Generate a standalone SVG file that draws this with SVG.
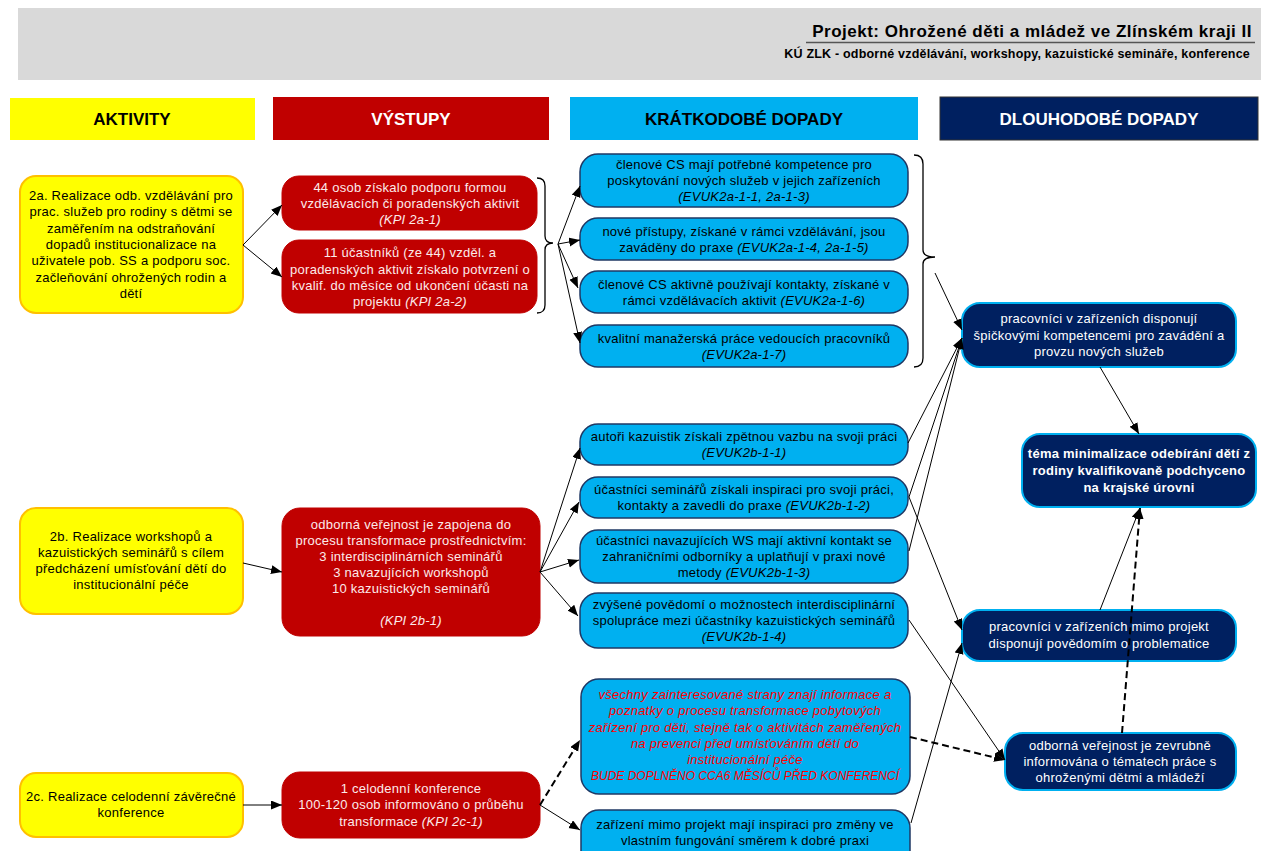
<svg xmlns="http://www.w3.org/2000/svg" width="1261" height="851" viewBox="0 0 1261 851">
<style>
text{font-family:"Liberation Sans",Arial,sans-serif;font-size:13px;letter-spacing:0.25px;text-anchor:middle}
.act{fill:#FFFF00;stroke:#FFC000;stroke-width:2}
.out{fill:#C00000;stroke:#C00000;stroke-width:1}
.sht{fill:#00B0F0;stroke:#1F3864;stroke-width:1.5}
.lng{fill:#002060;stroke:#00B0F0;stroke-width:2}
.tb{fill:#000}
.tw{fill:#FCEAEA}
.tn{fill:#FFFFFF}
.tr{fill:#FF0000;font-style:italic}
.i{font-style:italic}
.hd{font-weight:bold;font-size:17px;letter-spacing:0}
.c{fill:none;stroke:#000;stroke-width:1}
.d{fill:none;stroke:#000;stroke-width:2;stroke-dasharray:7,4}
.br{fill:none;stroke:#000;stroke-width:1.3}
</style>
<defs>
<marker id="a" markerUnits="userSpaceOnUse" markerWidth="12" markerHeight="10" refX="11" refY="4.5" orient="auto">
<path d="M0,0 L11,4.5 L0,9 z" fill="#000"/>
</marker>
</defs>
<g id="header">
<rect x="18" y="8" width="1243" height="72" fill="#D9D9D9"/>
<rect x="12" y="20" width="6" height="14" fill="#FFFFFF"/>
<rect x="12" y="38" width="6" height="12" fill="#FFFFFF"/>
<rect x="12" y="55" width="6" height="12" fill="#FFFFFF"/>
<text x="1252" y="37" style="text-anchor:end;font-weight:bold;font-size:17px;letter-spacing:0.5px" fill="#000">Projekt: Ohrožené děti a mládež ve Zlínském kraji II</text>
<line x1="806" y1="42.5" x2="1255" y2="42.5" stroke="#555" stroke-width="1.5"/>
<text x="1250" y="58" style="text-anchor:end;font-weight:bold;font-size:12.5px;letter-spacing:0.2px" fill="#000">KÚ ZLK - odborné vzdělávání, workshopy, kazuistické semináře, konference</text>
</g>
<g id="col-aktivity"><rect x="10" y="98" width="245" height="42" fill="#FFFF00"/><text x="132" y="125" class="hd tb">AKTIVITY</text></g>
<g id="col-vystupy"><rect x="273" y="97" width="276" height="43" fill="#C00000"/><text x="411" y="125" class="hd" fill="#FFFFFF">VÝSTUPY</text></g>
<g id="col-kratkodobe"><rect x="570" y="97" width="348" height="43" fill="#00B0F0"/><text x="744" y="125" class="hd tb">KRÁTKODOBÉ DOPADY</text></g>
<g id="col-dlouhodobe"><rect x="940" y="97" width="318" height="43" fill="#002060" stroke="#333" stroke-width="1"/><text x="1099" y="125" class="hd" fill="#FFFFFF">DLOUHODOBÉ DOPADY</text></g>

<g id="a2a"><rect x="20" y="176" width="223" height="137" rx="16" class="act"/>
<text class="tb"><tspan x="131" y="200">2a. Realizace odb. vzdělávání pro</tspan><tspan x="131" y="216">prac. služeb pro rodiny s dětmi se</tspan><tspan x="131" y="233">zaměřením na odstraňování</tspan><tspan x="131" y="249">dopadů institucionalizace na</tspan><tspan x="131" y="265">uživatele pob. SS a podporu soc.</tspan><tspan x="131" y="282">začleňování ohrožených rodin a</tspan><tspan x="131" y="298">dětí</tspan></text></g>
<g id="a2b"><rect x="20" y="508" width="223" height="106" rx="16" class="act"/>
<text class="tb"><tspan x="131" y="541">2b. Realizace workshopů a</tspan><tspan x="131" y="557">kazuistických seminářů s cílem</tspan><tspan x="131" y="573">předcházení umísťování dětí do</tspan><tspan x="131" y="589">institucionální péče</tspan></text></g>
<g id="a2c"><rect x="20" y="773" width="223" height="64" rx="16" class="act"/>
<text class="tb"><tspan x="131" y="801">2c. Realizace celodenní závěrečné</tspan><tspan x="131" y="817">konference</tspan></text></g>

<g id="o1"><rect x="282" y="176" width="255" height="54" rx="17" class="out"/>
<text class="tw"><tspan x="410" y="192">44 osob získalo podporu formou</tspan><tspan x="410" y="208">vzdělávacích či poradenských aktivit</tspan><tspan x="410" y="224" class="i">(KPI 2a-1)</tspan></text></g>
<g id="o2"><rect x="282" y="240" width="255" height="73" rx="17" class="out"/>
<text class="tw"><tspan x="410" y="257">11 účastníků (ze 44) vzděl. a</tspan><tspan x="410" y="274">poradenských aktivit získalo potvrzení o</tspan><tspan x="410" y="290">kvalif. do měsíce od ukončení účasti na</tspan><tspan x="410" y="306">projektu <tspan class="i">(KPI 2a-2)</tspan></tspan></text></g>
<g id="o3"><rect x="282" y="508" width="258" height="128" rx="18" class="out"/>
<text class="tw"><tspan x="411" y="529">odborná veřejnost je zapojena do</tspan><tspan x="411" y="545">procesu transformace prostřednictvím:</tspan><tspan x="411" y="561">3 interdisciplinárních seminářů</tspan><tspan x="411" y="577">3 navazujících workshopů</tspan><tspan x="411" y="593">10 kazuistických seminářů</tspan><tspan x="411" y="625" class="i">(KPI 2b-1)</tspan></text></g>
<g id="o4"><rect x="282" y="772" width="258" height="66" rx="18" class="out"/>
<text class="tw"><tspan x="411" y="793">1 celodenní konference</tspan><tspan x="411" y="809">100-120 osob informováno o průběhu</tspan><tspan x="411" y="826">transformace <tspan class="i">(KPI 2c-1)</tspan></tspan></text></g>

<g id="s1"><rect x="580" y="154" width="328" height="53" rx="18" class="sht"/>
<text class="tb"><tspan x="744" y="169">členové CS mají potřebné kompetence pro</tspan><tspan x="744" y="185">poskytování nových služeb v jejich zařízeních</tspan><tspan x="744" y="201" class="i">(EVUK2a-1-1, 2a-1-3)</tspan></text></g>
<g id="s2"><rect x="580" y="218" width="328" height="42" rx="18" class="sht"/>
<text class="tb"><tspan x="744" y="236">nové přístupy, získané v rámci vzdělávání, jsou</tspan><tspan x="744" y="252">zaváděny do praxe <tspan class="i">(EVUK2a-1-4, 2a-1-5)</tspan></tspan></text></g>
<g id="s3"><rect x="580" y="271" width="328" height="42" rx="18" class="sht"/>
<text class="tb"><tspan x="744" y="289">členové CS aktivně používají kontakty, získané v</tspan><tspan x="744" y="305">rámci vzdělávacích aktivit <tspan class="i">(EVUK2a-1-6)</tspan></tspan></text></g>
<g id="s4"><rect x="580" y="325" width="328" height="42" rx="18" class="sht"/>
<text class="tb"><tspan x="744" y="343">kvalitní manažerská práce vedoucích pracovníků</tspan><tspan x="744" y="359" class="i">(EVUK2a-1-7)</tspan></text></g>
<g id="s5"><rect x="580" y="424" width="328" height="41" rx="18" class="sht"/>
<text class="tb"><tspan x="744" y="441">autoři kazuistik získali zpětnou vazbu na svoji práci</tspan><tspan x="744" y="457" class="i">(EVUK2b-1-1)</tspan></text></g>
<g id="s6"><rect x="580" y="477" width="328" height="41" rx="18" class="sht"/>
<text class="tb"><tspan x="744" y="494">účastníci seminářů získali inspiraci pro svoji práci,</tspan><tspan x="744" y="510">kontakty a zavedli do praxe <tspan class="i">(EVUK2b-1-2)</tspan></tspan></text></g>
<g id="s7"><rect x="580" y="530" width="328" height="53" rx="18" class="sht"/>
<text class="tb"><tspan x="744" y="545">účastníci navazujících WS mají aktivní kontakt se</tspan><tspan x="744" y="561">zahraničními odborníky a uplatňují v praxi nové</tspan><tspan x="744" y="577">metody <tspan class="i">(EVUK2b-1-3)</tspan></tspan></text></g>
<g id="s8"><rect x="580" y="593" width="328" height="55" rx="18" class="sht"/>
<text class="tb"><tspan x="744" y="609">zvýšené povědomí o možnostech interdisciplinární</tspan><tspan x="744" y="625">spolupráce mezi účastníky kazuistických seminářů</tspan><tspan x="744" y="641" class="i">(EVUK2b-1-4)</tspan></text></g>
<g id="s9"><rect x="581" y="679" width="329" height="115" rx="18" class="sht"/>
<text class="tr"><tspan x="745" y="699">všechny zainteresované strany znají informace a</tspan><tspan x="745" y="715">poznatky o procesu transformace pobytových</tspan><tspan x="745" y="732">zařízení pro děti, stejně tak o aktivitách zaměřených</tspan><tspan x="745" y="748">na prevenci před umísťováním dětí do</tspan><tspan x="745" y="764">institucionální péče</tspan><tspan x="745" y="780" style="font-size:12px;letter-spacing:0">BUDE DOPLNĚNO CCA6 MĚSÍCŮ PŘED KONFERENCÍ</tspan></text></g>
<g id="s10"><rect x="581" y="810" width="329" height="60" rx="18" class="sht"/>
<text class="tb"><tspan x="745" y="829">zařízení mimo projekt mají inspiraci pro změny ve</tspan><tspan x="745" y="845">vlastním fungování směrem k dobré praxi</tspan></text></g>

<g id="l1"><rect x="962" y="303" width="274" height="64" rx="18" class="lng"/>
<text class="tn"><tspan x="1099" y="323">pracovníci v zařízeních disponují</tspan><tspan x="1099" y="340">špičkovými kompetencemi pro zavádění a</tspan><tspan x="1099" y="356">provzu nových služeb</tspan></text></g>
<g id="l2"><rect x="1022" y="434" width="234" height="73" rx="18" class="lng"/>
<text class="tn" font-weight="bold"><tspan x="1139" y="458">téma minimalizace odebírání dětí z</tspan><tspan x="1139" y="475">rodiny kvalifikovaně podchyceno</tspan><tspan x="1139" y="492">na krajské úrovni</tspan></text></g>
<g id="l3"><rect x="962" y="610" width="274" height="51" rx="18" class="lng"/>
<text class="tn"><tspan x="1099" y="631">pracovníci v zařízeních mimo projekt</tspan><tspan x="1099" y="648">disponují povědomím o problematice</tspan></text></g>
<g id="l4"><rect x="1005" y="733" width="231" height="57" rx="18" class="lng"/>
<text class="tn"><tspan x="1120" y="750">odborná veřejnost je zevrubně</tspan><tspan x="1120" y="766">informována o tématech práce s</tspan><tspan x="1120" y="782">ohroženými dětmi a mládeží</tspan></text></g>

<g id="connectors">
<path class="br" d="M537,178 Q545,178 545,186 L545,236 Q545,243 553,243 Q545,243 545,250 L545,305 Q545,313 537,313"/>
<path class="br" d="M914,155 Q923,155 923,164 L923,250 Q923,257 935,257 Q923,257 923,264 L923,358 Q923,367 914,367"/>
<line class="c" x1="243" y1="245" x2="282" y2="205" marker-end="url(#a)"/>
<line class="c" x1="243" y1="245" x2="282" y2="277" marker-end="url(#a)"/>
<line class="c" x1="558" y1="244" x2="580" y2="186" marker-end="url(#a)"/>
<line class="c" x1="558" y1="244" x2="580" y2="240" marker-end="url(#a)"/>
<line class="c" x1="558" y1="244" x2="578" y2="288" marker-end="url(#a)"/>
<line class="c" x1="558" y1="244" x2="580" y2="343" marker-end="url(#a)"/>
<line class="c" x1="243" y1="563" x2="282" y2="572" marker-end="url(#a)"/>
<line class="c" x1="540" y1="572" x2="580" y2="448" marker-end="url(#a)"/>
<line class="c" x1="540" y1="572" x2="579" y2="502" marker-end="url(#a)"/>
<line class="c" x1="540" y1="572" x2="579" y2="560" marker-end="url(#a)"/>
<line class="c" x1="540" y1="572" x2="578" y2="616" marker-end="url(#a)"/>
<line class="c" x1="243" y1="805" x2="282" y2="805" marker-end="url(#a)"/>
<line class="d" x1="540" y1="805" x2="580" y2="740" marker-end="url(#a)"/>
<line class="c" x1="540" y1="805" x2="580" y2="830" marker-end="url(#a)"/>
<line class="c" x1="935" y1="273" x2="962" y2="330" marker-end="url(#a)"/>
<line class="c" x1="908" y1="443" x2="962" y2="338" marker-end="url(#a)"/>
<line class="c" x1="909" y1="497" x2="962" y2="338" marker-end="url(#a)"/>
<line class="c" x1="909" y1="551" x2="962" y2="338" marker-end="url(#a)"/>
<line class="c" x1="909" y1="497" x2="962" y2="630" marker-end="url(#a)"/>
<line class="c" x1="911" y1="823" x2="962" y2="643" marker-end="url(#a)"/>
<line class="c" x1="909" y1="620" x2="1005" y2="760" marker-end="url(#a)"/>
<line class="d" x1="910" y1="737" x2="1005" y2="760" marker-end="url(#a)"/>
<line class="c" x1="1100" y1="367" x2="1139" y2="434" marker-end="url(#a)"/>
<line class="c" x1="1100" y1="610" x2="1140" y2="508" marker-end="url(#a)"/>
<line class="d" x1="1122" y1="733" x2="1140" y2="508" marker-end="url(#a)"/>
</g>
</svg>
